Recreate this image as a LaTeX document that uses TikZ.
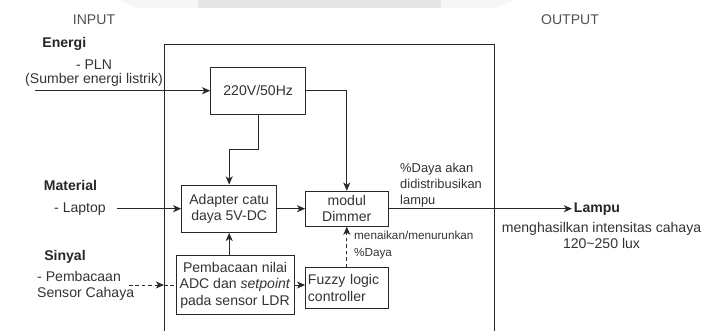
\documentclass[tikz,border=0pt]{standalone}
\usepackage{fontspec}
\setmainfont{Liberation Sans}
\usetikzlibrary{arrows.meta, positioning}
\definecolor{garisAbu}{RGB}{40,40,40}
\definecolor{teksAbu}{RGB}{51,51,51}
\definecolor{judulAbu}{RGB}{80,80,80}
\definecolor{pitaAbu}{RGB}{230,230,230}
\definecolor{pitaMuda}{RGB}{246,246,246}

\begin{document}
\begin{tikzpicture}[x=0.03cm, y=-0.03cm,
    blok/.style={draw=garisAbu, line width=0.8pt, text=teksAbu, align=center,
      font=\fontsize{12}{14.1}\selectfont, inner sep=1pt},
    ket/.style={text=teksAbu, font=\fontsize{12}{14.1}\selectfont, inner sep=0pt},
    judul/.style={text=black!85, font=\fontsize{12}{14.1}\selectfont\bfseries, inner sep=0pt},
    panah/.style={draw=garisAbu, line width=0.8pt, -{Stealth[length=7pt, width=6pt, inset=2pt]}},
    putus/.style={panah, dash pattern=on 3pt off 2.5pt}]
  \useasboundingbox (0,0) rectangle (702,331);
  % pita samar di tepi atas
  \fill[pitaMuda] (120,0) -- (135,8) -- (495,8) -- (515,0) -- cycle;
  \fill[pitaAbu] (198,0) rectangle (441,8);
  % kotak sistem, terpotong di bawah
  \draw[garisAbu, line width=0.8pt] (164,331) -- (164,44) -- (494,44) -- (494,331);

  \node[ket, text=judulAbu] (input) at (94,20) {INPUT};
  \node[ket, text=judulAbu] (output) at (570,20) {OUTPUT};

  % blok di dalam sistem
  \node[blok, minimum width=2.85cm, minimum height=1.41cm] (tegangan) at (258.2,90.7) {220V/50Hz};
  \node[blok, minimum width=2.85cm, minimum height=1.42cm] (adapter) at (229.2,208.7) {Adapter catu\\daya 5V-DC};
  \node[blok, minimum width=2.47cm, minimum height=1.05cm] (dimmer) at (346.8,208.7) {modul\\Dimmer};
  \node[blok, minimum width=3.54cm, minimum height=1.76cm] (baca) at (235,285) {Pembacaan nilai\\ADC dan \textit{setpoint}\\pada sensor LDR};
  \node[blok, align=left, text width=2.33cm, inner xsep=2pt, minimum height=1.22cm] (fuzzy) at (346.8,288) {Fuzzy logic\\controller};

  % masukan
  \node[judul] (energi) at (64.3,44) {Energi};
  \node[ket, align=center, font=\fontsize{12}{12.2}\selectfont] (pln) at (94,73) {- PLN\\(Sumber energi listrik)};
  \node[judul] (material) at (70.5,185) {Material};
  \node[ket] (laptop) at (80,208.7) {- Laptop};
  \node[judul] (sinyal) at (65,256.7) {Sinyal};
  \node[ket, align=left, anchor=west] (sensor) at (37,285.7) {- Pembacaan\\Sensor Cahaya};
  \coordinate (energiMasuk) at (35,90.7);
  \coordinate (sinyalKeluar) at (129,285);
  \coordinate (batasKiri) at (164,285);

  % keluaran
  \node[judul, anchor=west, inner sep=1.5pt] (lampu) at (572,208.7) {Lampu};
  \node[ket, align=center] (lampuKet) at (601.5,235.5) {menghasilkan intensitas cahaya\\120\textasciitilde250 lux};
  \node[ket, align=left, anchor=west, font=\fontsize{11}{13.5}\selectfont] (ketDaya) at (400,185) {\%Daya akan\\didistribusikan\\lampu};
  \node[ket, align=left, anchor=west, font=\fontsize{10}{14.5}\selectfont] (ketNaik) at (354,244.5) {menaikan/menurunkan\\\%Daya};

  % penghubung
  \draw[panah] (energiMasuk) -- (tegangan.west);
  \draw[panah] (tegangan.south) -- ++(0,35) -| (adapter.north);
  \draw[panah] (tegangan.east) -| (dimmer.north);
  \draw[panah, shorten <=9pt] (laptop.east) -- (adapter.west);
  \draw[panah] (adapter.east) -- (dimmer.west);
  \draw[panah] (adapter.south |- baca.north) -- (adapter.south);
  \draw[panah] (baca.east) -- (baca.east -| fuzzy.west);
  \draw[putus] (fuzzy.north) -- (dimmer.south);
  \draw[putus] (sinyalKeluar) -- (batasKiri);
  \draw[garisAbu, line width=0.8pt, dash pattern=on 3pt off 2.5pt] (batasKiri) -- (batasKiri -| baca.west);
  \draw[panah] (dimmer.east) -- (lampu.west);
\end{tikzpicture}
\end{document}
